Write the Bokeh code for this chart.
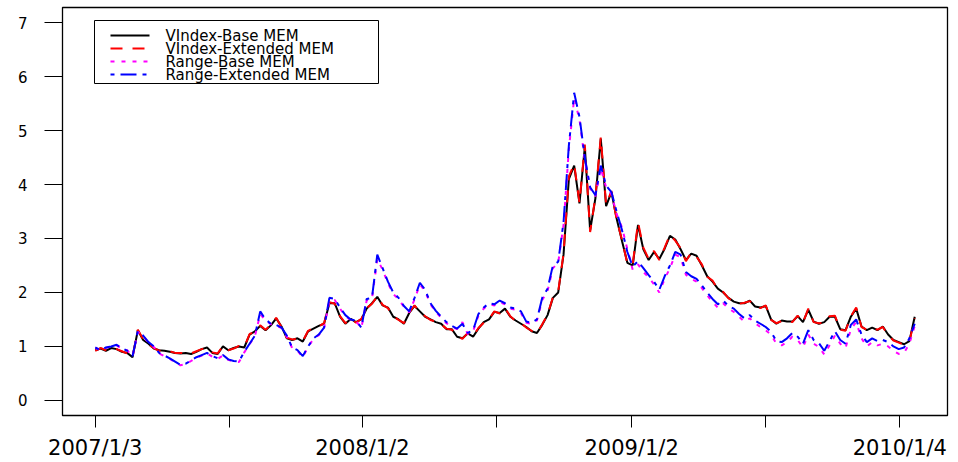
from bokeh.plotting import figure
from bokeh.models import Range1d, FixedTicker, Label, Arrow, BoxAnnotation
from bokeh.embed import file_html
from bokeh.resources import INLINE

# trading-day index of each observation (every 5th trading day from 2007/1/3)
day = list(range(1, 772, 5))

tick_days = [1, 127, 252, 378, 505, 631, 757]
tick_labels = ["2007/1/3", "", "2008/1/2", "", "2009/1/2", "", "2010/1/4"]

vindex_base = [
    0.93, 0.96, 0.92, 0.97, 0.95, 0.90, 0.88, 0.80, 1.30, 1.12,
    1.05, 0.96, 0.93, 0.92, 0.90, 0.88, 0.87, 0.88, 0.86, 0.90,
    0.95, 0.98, 0.88, 0.86, 1.00, 0.93, 0.97, 1.00, 0.98, 1.22,
    1.28, 1.38, 1.30, 1.39, 1.52, 1.37, 1.15, 1.12, 1.15, 1.09,
    1.28, 1.33, 1.38, 1.42, 1.80, 1.80, 1.55, 1.42, 1.51, 1.45,
    1.50, 1.70, 1.80, 1.92, 1.76, 1.72, 1.55, 1.50, 1.42, 1.62,
    1.75, 1.65, 1.55, 1.50, 1.45, 1.42, 1.32, 1.32, 1.18, 1.15,
    1.24, 1.18, 1.33, 1.45, 1.50, 1.64, 1.62, 1.70, 1.55, 1.48,
    1.42, 1.36, 1.28, 1.25, 1.40, 1.58, 1.90, 2.00, 2.70, 4.10,
    4.35, 3.65, 4.70, 3.15, 3.75, 4.85, 3.60, 3.86, 3.36, 2.95,
    2.55, 2.50, 3.25, 2.80, 2.60, 2.75, 2.62, 2.81, 3.05, 2.98,
    2.80, 2.60, 2.72, 2.68, 2.50, 2.30, 2.20, 2.07, 2.00, 1.90,
    1.83, 1.80, 1.80, 1.85, 1.74, 1.72, 1.75, 1.50, 1.42, 1.48,
    1.46, 1.46, 1.56, 1.45, 1.68, 1.46, 1.42, 1.45, 1.55, 1.55,
    1.32, 1.30, 1.55, 1.70, 1.37, 1.30, 1.35, 1.30, 1.37, 1.22,
    1.12, 1.08, 1.04, 1.10, 1.55,
]

vindex_ext = [
    0.92, 0.97, 0.93, 0.96, 0.95, 0.91, 0.87, 0.81, 1.31, 1.13,
    1.04, 0.97, 0.92, 0.92, 0.91, 0.88, 0.88, 0.87, 0.87, 0.91,
    0.95, 0.97, 0.89, 0.87, 1.01, 0.93, 0.96, 1.01, 0.99, 1.23,
    1.27, 1.39, 1.31, 1.40, 1.53, 1.36, 1.16, 1.13, 1.14, 1.10,
    1.29, 1.34, 1.37, 1.43, 1.82, 1.79, 1.56, 1.43, 1.52, 1.44,
    1.51, 1.71, 1.79, 1.93, 1.77, 1.71, 1.56, 1.49, 1.43, 1.63,
    1.76, 1.64, 1.56, 1.49, 1.46, 1.41, 1.33, 1.31, 1.19, 1.14,
    1.25, 1.19, 1.34, 1.44, 1.51, 1.65, 1.61, 1.71, 1.56, 1.47,
    1.43, 1.35, 1.29, 1.24, 1.41, 1.59, 1.91, 2.02, 2.72, 4.15,
    4.38, 3.66, 4.74, 3.12, 3.78, 4.88, 3.63, 3.88, 3.34, 2.97,
    2.53, 2.52, 3.30, 2.83, 2.62, 2.77, 2.60, 2.83, 3.07, 2.96,
    2.82, 2.58, 2.74, 2.66, 2.52, 2.29, 2.22, 2.06, 2.01, 1.89,
    1.84, 1.79, 1.81, 1.84, 1.75, 1.71, 1.76, 1.49, 1.43, 1.47,
    1.47, 1.45, 1.57, 1.44, 1.70, 1.45, 1.43, 1.44, 1.56, 1.57,
    1.31, 1.29, 1.56, 1.72, 1.36, 1.31, 1.34, 1.31, 1.36, 1.21,
    1.11, 1.07, 1.03, 1.09, 1.52,
]

range_base = [
    0.97, 0.94, 0.97, 1.01, 1.02, 0.96, 0.93, 0.81, 1.27, 1.19,
    1.07, 0.99, 0.87, 0.82, 0.77, 0.71, 0.65, 0.67, 0.73, 0.79,
    0.83, 0.87, 0.81, 0.77, 0.83, 0.75, 0.72, 0.71, 0.89, 1.04,
    1.19, 1.60, 1.48, 1.41, 1.39, 1.34, 1.18, 0.97, 0.92, 0.80,
    0.99, 1.14, 1.21, 1.34, 1.85, 1.86, 1.70, 1.56, 1.49, 1.47,
    1.34, 1.85, 1.88, 2.62, 2.42, 2.17, 1.97, 1.88, 1.73, 1.63,
    1.87, 2.15, 2.02, 1.78, 1.64, 1.53, 1.43, 1.36, 1.32, 1.45,
    1.23, 1.28, 1.57, 1.70, 1.78, 1.76, 1.82, 1.78, 1.70, 1.68,
    1.62, 1.44, 1.42, 1.48, 1.86, 2.03, 2.45, 2.55, 3.25, 4.65,
    5.60, 5.20, 4.45, 3.92, 3.78, 4.30, 3.95, 3.82, 3.45, 3.20,
    2.80, 2.42, 2.52, 2.38, 2.28, 2.15, 2.00, 2.25, 2.45, 2.70,
    2.65, 2.33, 2.25, 2.20, 2.08, 1.95, 1.82, 1.72, 1.80, 1.70,
    1.64, 1.55, 1.46, 1.52, 1.43, 1.36, 1.30, 1.22, 1.05, 1.02,
    1.08, 1.18, 1.12, 0.98, 1.22, 1.05, 0.99, 0.85, 1.02, 1.20,
    1.05, 0.97, 1.32, 1.45, 1.15, 1.00, 1.08, 1.02, 1.05, 1.00,
    0.92, 0.86, 0.88, 1.05, 1.38,
]

range_ext = [
    0.98, 0.93, 0.98, 1.00, 1.03, 0.97, 0.92, 0.82, 1.28, 1.20,
    1.08, 1.00, 0.88, 0.83, 0.78, 0.72, 0.66, 0.68, 0.74, 0.80,
    0.84, 0.88, 0.82, 0.78, 0.84, 0.76, 0.73, 0.72, 0.90, 1.05,
    1.20, 1.65, 1.50, 1.42, 1.40, 1.35, 1.20, 0.98, 0.93, 0.82,
    1.00, 1.15, 1.22, 1.35, 1.90, 1.88, 1.72, 1.58, 1.50, 1.48,
    1.35, 1.88, 1.90, 2.70, 2.45, 2.20, 2.00, 1.90, 1.75, 1.65,
    1.90, 2.18, 2.05, 1.80, 1.66, 1.55, 1.45, 1.38, 1.33, 1.42,
    1.25, 1.30, 1.60, 1.72, 1.80, 1.78, 1.85, 1.80, 1.72, 1.70,
    1.65, 1.46, 1.44, 1.50, 1.90, 2.07, 2.50, 2.57, 3.30, 4.72,
    5.70, 5.25, 4.50, 3.95, 3.80, 4.35, 3.98, 3.86, 3.49, 3.15,
    2.75, 2.48, 2.58, 2.45, 2.32, 2.20, 2.05, 2.30, 2.50, 2.75,
    2.70, 2.38, 2.30, 2.25, 2.13, 2.00, 1.88, 1.78, 1.85, 1.75,
    1.70, 1.60, 1.52, 1.58, 1.48, 1.42, 1.36, 1.27, 1.10, 1.08,
    1.15, 1.25, 1.18, 1.05, 1.30, 1.12, 1.06, 0.92, 1.10, 1.28,
    1.12, 1.05, 1.40, 1.50, 1.22, 1.08, 1.15, 1.10, 1.12, 1.08,
    1.00, 0.95, 0.98, 1.15, 1.42,
]

series_names = ["VIndex-Base MEM", "VIndex-Extended MEM", "Range-Base MEM", "Range-Extended MEM"]
series_colors = ["black", "red", "magenta", "blue"]
series_dashes = ["solid", "12 10", "4 7", "4 6 16 6"]

p = figure(width=958, height=462, output_backend="svg", toolbar_location=None,
           x_range=Range1d(-29.8, 801.8), y_range=Range1d(-0.28, 7.28),
           min_border_left=62, min_border_right=11, min_border_top=7, min_border_bottom=45)
p.xgrid.visible = False
p.ygrid.visible = False
p.outline_line_color = "black"
p.outline_line_width = 1.3
p.outline_line_alpha = 1.0
p.background_fill_color = "white"
p.border_fill_color = "white"

for ys, c, d in zip([vindex_base, vindex_ext, range_base, range_ext], series_colors, series_dashes):
    p.line(day, ys, line_color=c, line_width=2, line_dash=d)

xa = p.xaxis[0]
xa.ticker = FixedTicker(ticks=tick_days)
xa.major_label_overrides = {d: lab for d, lab in zip(tick_days, tick_labels)}
xa.minor_tick_line_color = None
xa.major_tick_in = 0
xa.major_tick_out = 12
xa.major_tick_line_color = "black"
xa.axis_line_color = "black"
xa.major_label_standoff = 8
xa.major_label_text_font = "DejaVu Sans"
xa.major_label_text_font_size = "21px"
xa.major_label_text_color = "black"

ya = p.yaxis[0]
ya.ticker = FixedTicker(ticks=[0, 1, 2, 3, 4, 5, 6, 7])
ya.minor_tick_line_color = None
ya.major_tick_in = 0
ya.major_tick_out = 18
ya.major_tick_line_color = "black"
ya.axis_line_color = "black"
ya.major_label_standoff = 17
ya.major_label_text_font = "DejaVu Sans"
ya.major_label_text_font_size = "15px"
ya.major_label_text_color = "black"
ya.major_label_orientation = "horizontal"

# legend box (screen px relative to the plot frame, origin bottom-left)
p.add_layout(BoxAnnotation(left=32, right=316, bottom=332, top=395,
                           left_units="screen", right_units="screen",
                           bottom_units="screen", top_units="screen",
                           fill_color="white", fill_alpha=1.0,
                           line_color="black", line_width=1, line_alpha=1.0))
row_y = [380, 367, 354, 341]
for name, c, d, yy in zip(series_names, series_colors, series_dashes, row_y):
    p.add_layout(Arrow(start=None, end=None, x_start=48, x_end=87, y_start=yy, y_end=yy,
                       start_units="screen", end_units="screen",
                       line_color=c, line_width=2, line_dash=d))
    p.add_layout(Label(x=103, y=yy, x_units="screen", y_units="screen", text=name,
                       text_font="DejaVu Sans", text_font_size="15px",
                       text_baseline="middle", text_color="black"))

open("out.html", "w").write(file_html(p, INLINE))
